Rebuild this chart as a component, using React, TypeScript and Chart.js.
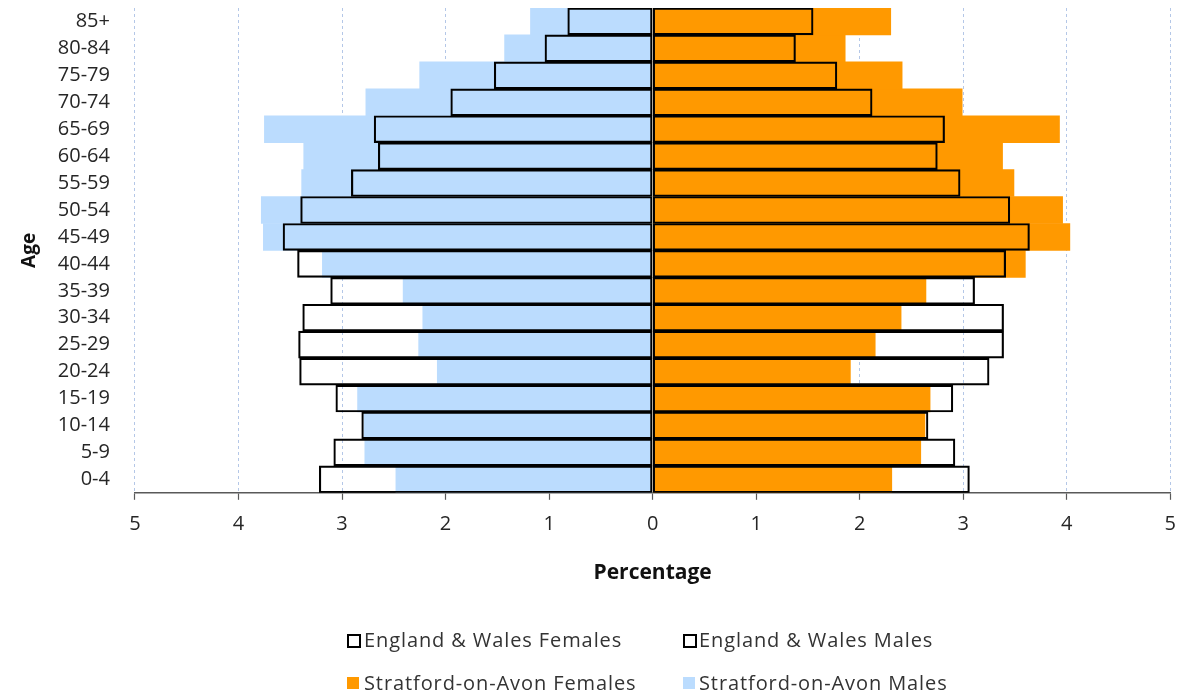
import React, { useEffect, useRef } from "react";
import { Chart, registerables } from "chart.js";

Chart.register(...registerables);

const ageGroups = ["0-4", "5-9", "10-14", "15-19", "20-24", "25-29", "30-34", "35-39", "40-44", "45-49", "50-54", "55-59", "60-64", "65-69", "70-74", "75-79", "80-84", "85+"];

const ewFemales = [3.06, 2.92, 2.66, 2.9, 3.25, 3.39, 3.39, 3.11, 3.41, 3.64, 3.45, 2.97, 2.75, 2.82, 2.12, 1.78, 1.38, 1.55];
const ewMales = [3.22, 3.08, 2.81, 3.06, 3.41, 3.42, 3.38, 3.11, 3.43, 3.57, 3.4, 2.91, 2.65, 2.69, 1.95, 1.53, 1.04, 0.82];
const sFemales = [2.31, 2.59, 2.63, 2.68, 1.91, 2.15, 2.4, 2.64, 3.6, 4.03, 3.96, 3.49, 3.38, 3.93, 2.99, 2.41, 1.86, 2.3];
const sMales = [2.48, 2.78, 2.79, 2.85, 2.08, 2.26, 2.22, 2.41, 3.19, 3.76, 3.78, 3.39, 3.37, 3.75, 2.77, 2.25, 1.43, 1.18];

const xTicks = [-5, -4, -3, -2, -1, 0, 1, 2, 3, 4, 5];

const ORANGE = "#FF9900";
const BLUE = "#BBDCFE";
const FONT = "'Open Sans', sans-serif";

export default function App() {
  const ref = useRef<HTMLCanvasElement | null>(null);

  useEffect(() => {
    if (!ref.current) return;
    const chart = new Chart(ref.current, {
      type: "bar",
      data: {
        labels: ageGroups,
        datasets: [
          {
            label: "England & Wales Females",
            data: ewFemales,
            backgroundColor: "rgba(0,0,0,0)",
            borderColor: "#000000",
            borderWidth: 1.5,
            borderSkipped: false,
            grouped: false,
          },
          {
            label: "England & Wales Males",
            data: ewMales.map((v) => -v),
            backgroundColor: "rgba(0,0,0,0)",
            borderColor: "#000000",
            borderWidth: 1.5,
            borderSkipped: false,
            grouped: false,
          },
          {
            label: "Stratford-on-Avon Females",
            data: sFemales,
            backgroundColor: ORANGE,
            borderWidth: 0,
            grouped: false,
          },
          {
            label: "Stratford-on-Avon Males",
            data: sMales.map((v) => -v),
            backgroundColor: BLUE,
            borderWidth: 0,
            grouped: false,
          },
        ],
      },
      options: {
        indexAxis: "y",
        responsive: false,
        animation: false,
        datasets: { bar: { categoryPercentage: 1, barPercentage: 1 } },
        layout: { padding: { left: 18, right: 17, top: 8, bottom: 108 } },
        plugins: {
          legend: { display: false },
          tooltip: { enabled: false },
        },
        scales: {
          x: {
            min: -5,
            max: 5,
            afterBuildTicks: (axis: any) => {
              axis.ticks = xTicks.map((v) => ({ value: v }));
            },
            ticks: {
              callback: (v: any) => String(Math.abs(Number(v))),
              font: { family: FONT, size: 20 },
              color: "#262626",
              padding: 12,
              maxRotation: 0,
            },
            grid: {
              color: (ctx: any) => (ctx.tick && ctx.tick.value === 0 ? "rgba(0,0,0,0)" : "#B4C7E7"),
              lineWidth: 1,
              tickColor: "#595959",
              tickLength: 7,
              tickWidth: 1.2,
              tickBorderDash: [],
            },
            border: { display: true, color: "#595959", width: 1.5, dash: [3, 3] },
            title: {
              display: true,
              text: "Percentage",
              font: { family: FONT, size: 21, weight: "bold" },
              color: "#111111",
              padding: { top: 13, bottom: 0 },
            },
          },
          y: {
            reverse: true,
            grid: { display: false },
            border: { display: false },
            afterFit: (axis: any) => {
              axis.paddingTop = 0;
              axis.paddingBottom = 0;
            },
            ticks: {
              font: { family: FONT, size: 20 },
              color: "#262626",
              padding: 17,
              autoSkip: false,
            },
            title: {
              display: true,
              text: "Age",
              font: { family: FONT, size: 19, weight: "bold" },
              color: "#111111",
              padding: { top: 0, bottom: 0 },
            },
          },
        },
      },
    });
    return () => chart.destroy();
  }, []);

  const legendText: React.CSSProperties = {
    position: "absolute",
    fontFamily: FONT,
    fontSize: 20,
    letterSpacing: "0.9px",
    color: "#333333",
    whiteSpace: "nowrap",
    lineHeight: "24px",
  };
  const box = (left: number, top: number, fill: string, outline: boolean): React.CSSProperties => ({
    position: "absolute",
    left,
    top,
    width: outline ? 10 : 12,
    height: outline ? 10 : 12,
    background: fill,
    border: outline ? "2px solid #000" : "none",
  });

  return (
    <div style={{ position: "absolute", left: 0, top: 0, width: 1188, height: 694, background: "#fff", overflow: "hidden" }}>
      <canvas ref={ref} width={1188} height={694} style={{ width: 1188, height: 694, display: "block" }} />
      <div style={box(347, 634, "#fff", true)} />
      <div style={{ ...legendText, left: 364, top: 628 }}>England &amp; Wales Females</div>
      <div style={box(683, 634, "#fff", true)} />
      <div style={{ ...legendText, left: 699, top: 628 }}>England &amp; Wales Males</div>
      <div style={box(347, 677, ORANGE, false)} />
      <div style={{ ...legendText, left: 364, top: 671 }}>Stratford-on-Avon Females</div>
      <div style={box(683, 677, BLUE, false)} />
      <div style={{ ...legendText, left: 699, top: 671 }}>Stratford-on-Avon Males</div>
    </div>
  );
}
